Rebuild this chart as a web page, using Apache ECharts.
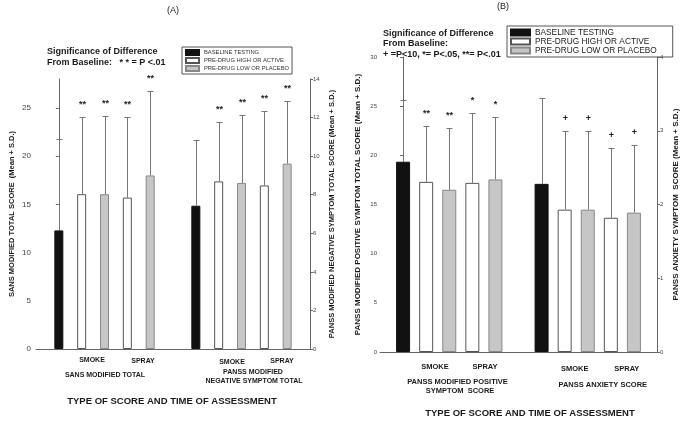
<!DOCTYPE html>
<html>
<head>
<meta charset="utf-8">
<script src="https://cdn.jsdelivr.net/npm/echarts@6/dist/echarts.min.js"></script>
<style>html,body{margin:0;padding:0;background:#fff}#c{width:685px;height:421px}</style>
</head>
<body>
<div id="c"></div>
<script>
// ---- data ----
const conditionNames = ['BASELINE TESTING', 'PRE-DRUG HIGH OR ACTIVE', 'PRE-DRUG LOW OR PLACEBO'];
// bar order within a score group: baseline, smoke high, smoke low, spray high, spray low
const barCondition = [0, 1, 2, 1, 2];
const slotsGroup1 = [0, 1, 2, 3, 4];
const slotsGroup2 = [6, 7, 8, 9, 10];

const sansMean  = [12.3, 16.05, 16.05, 15.7, 18.0];
const sansUpper = [21.8, 24.1, 24.2, 24.1, 26.8];
const sansStars = ['', '**', '**', '**', '**'];

const negMean  = [7.43, 8.69, 8.61, 8.48, 9.61];
const negUpper = [10.82, 11.78, 12.12, 12.36, 12.88];
const negStars = ['', '**', '**', '**', '**'];

const posMean  = [19.35, 17.3, 16.5, 17.2, 17.55];
const posUpper = [25.6, 23.0, 22.8, 24.35, 23.85];
const posStars = ['', '**', '**', '*', '*'];

const anxMean  = [2.28, 1.93, 1.93, 1.82, 1.89];
const anxUpper = [3.45, 2.99, 3.0, 2.77, 2.81];
const anxStars = ['', '+', '+', '+', '+'];

const leftATicks = [0, 5, 10, 15, 20, 25];

// ---- styles ----
const FF = '"Liberation Sans", Arial, sans-serif';
const barStyles = [
  {color: '#111', borderColor: '#111', borderWidth: 1},
  {color: '#fff', borderColor: '#555', borderWidth: 1},
  {color: '#c6c6c6', borderColor: '#888', borderWidth: 1}
];

function barSeries(slots, means, xi, yi, width) {
  return [0, 1, 2].map(c => ({
    type: 'bar', name: conditionNames[c], xAxisIndex: xi, yAxisIndex: yi,
    barWidth: width, barGap: '-100%',
    itemStyle: barStyles[c],
    data: slots.map((s, i) => barCondition[i] === c ? [s, means[i]] : null).filter(d => d),
    silent: true, animation: false
  }));
}

function errSeries(slots, means, uppers, stars, xi, yi, capHalf) {
  return {
    type: 'custom', xAxisIndex: xi, yAxisIndex: yi, silent: true, animation: false, z: 5,
    data: slots.map((s, i) => [s, means[i], uppers[i]]),
    renderItem: function (params, api) {
      const p0 = api.coord([api.value(0), api.value(1)]);
      const p1 = api.coord([api.value(0), api.value(2)]);
      const x = Math.round(p0[0]) + 0.5;
      const yt = Math.round(p1[1]) + 0.5;
      const ch = [
        {type: 'line', shape: {x1: x, y1: p0[1], x2: x, y2: yt}, style: {stroke: '#777', lineWidth: 1}},
        {type: 'line', shape: {x1: x - capHalf, y1: yt, x2: x + capHalf, y2: yt}, style: {stroke: '#777', lineWidth: 1}}
      ];
      const s = stars[params.dataIndex];
      if (s) ch.push({type: 'text', style: {text: s, x: x, y: yt - 13, align: 'center', verticalAlign: 'middle',
        font: 'bold 9px ' + FF, fill: '#222'}});
      return {type: 'group', children: ch};
    }
  };
}

function txt(text, x, y, size, opts) {
  opts = opts || {};
  return {type: 'text', x: x, y: y, silent: true,
    style: {text: text, x: 0, y: 0, align: opts.align || 'center', verticalAlign: 'middle',
      font: (opts.weight || 'bold') + ' ' + size + 'px ' + FF, fill: opts.fill || '#1a1a1a'}};
}

const axisLine = {show: true, lineStyle: {color: '#666', width: 1}};

const option = {
  backgroundColor: '#fff',
  animation: false,
  grid: [
    {left: 36, right: 375, top: 79, bottom: 72},
    {left: 380, right: 28, top: 57, bottom: 69}
  ],
  xAxis: [0, 1].map(g => ({
    type: 'value', gridIndex: g, min: -1, max: 11,
    axisLine: axisLine, axisTick: {show: false}, axisLabel: {show: false}, splitLine: {show: false}
  })),
  yAxis: [
    {type: 'value', gridIndex: 0, position: 'left', min: 0, max: 28, interval: 5,
      axisLine: axisLine, splitLine: {show: false},
      axisTick: {show: true, length: 3, lineStyle: {color: '#666'}, customValues: leftATicks},
      axisLabel: {fontSize: 8, color: '#444', margin: 5, fontFamily: FF, customValues: leftATicks},
      name: 'SANS MODIFIED TOTAL SCORE  (Mean + S.D.)', nameLocation: 'middle', nameRotate: 90, nameGap: 20,
      nameTextStyle: {fontSize: 7.5, fontWeight: 'bold', color: '#1a1a1a', fontFamily: FF}},
    {type: 'value', gridIndex: 0, position: 'right', min: 0, max: 14, interval: 2,
      axisLine: axisLine, splitLine: {show: false},
      axisTick: {show: true, length: 3, lineStyle: {color: '#666'}},
      axisLabel: {fontSize: 6, color: '#444', margin: 3, fontFamily: FF},
      name: 'PANSS MODIFIED NEGATIVE SYMPTOM TOTAL SCORE (Mean + S.D.)', nameLocation: 'middle', nameRotate: 90, nameGap: 18,
      nameTextStyle: {fontSize: 7.5, fontWeight: 'bold', color: '#1a1a1a', fontFamily: FF}},
    {type: 'value', gridIndex: 1, position: 'left', min: 0, max: 30, interval: 5,
      axisLine: axisLine, splitLine: {show: false},
      axisTick: {show: true, length: 3, lineStyle: {color: '#666'}},
      axisLabel: {fontSize: 6, color: '#444', margin: 3, fontFamily: FF},
      name: 'PANSS MODIFIED POSITIVE SYMPTOM TOTAL SCORE (Mean + S.D.)', nameLocation: 'middle', nameRotate: 90, nameGap: 18,
      nameTextStyle: {fontSize: 8, fontWeight: 'bold', color: '#1a1a1a', fontFamily: FF}},
    {type: 'value', gridIndex: 1, position: 'right', min: 0, max: 4, interval: 1,
      axisLine: axisLine, splitLine: {show: false},
      axisTick: {show: true, length: 3, lineStyle: {color: '#666'}},
      axisLabel: {fontSize: 6, color: '#444', margin: 3, fontFamily: FF},
      name: 'PANSS ANXIETY SYMPTOM  SCORE (Mean + S.D.)', nameLocation: 'middle', nameRotate: 90, nameGap: 15,
      nameTextStyle: {fontSize: 8, fontWeight: 'bold', color: '#1a1a1a', fontFamily: FF}}
  ],
  legend: [
    {left: 182, top: 47, orient: 'vertical', data: conditionNames, selectedMode: false, icon: 'rect',
      itemWidth: 13, itemHeight: 5, itemGap: 1, padding: [2, 3, 2, 3],
      borderColor: '#555', borderWidth: 1,
      textStyle: {fontSize: 5.8, color: '#333', fontFamily: FF, lineHeight: 7}},
    {left: 507, top: 26, orient: 'vertical', data: conditionNames, selectedMode: false, icon: 'rect',
      itemWidth: 19, itemHeight: 6, itemGap: 0, padding: [2, 16, 2, 3],
      borderColor: '#555', borderWidth: 1,
      textStyle: {fontSize: 8.3, color: '#222', fontFamily: FF, lineHeight: 9}}
  ],
  series: [].concat(
    barSeries(slotsGroup1, sansMean, 0, 0, 9),
    barSeries(slotsGroup2, negMean, 0, 1, 9),
    barSeries(slotsGroup1, posMean, 1, 2, 14),
    barSeries(slotsGroup2, anxMean, 1, 3, 14),
    [errSeries(slotsGroup1, sansMean, sansUpper, sansStars, 0, 0, 3),
     errSeries(slotsGroup2, negMean, negUpper, negStars, 0, 1, 3),
     errSeries(slotsGroup1, posMean, posUpper, posStars, 1, 2, 3),
     errSeries(slotsGroup2, anxMean, anxUpper, anxStars, 1, 3, 3)]
  ),
  graphic: [
    txt('(A)', 173, 11, 9, {weight: 'normal'}),
    txt('(B)', 503, 7, 9, {weight: 'normal'}),
    txt('Significance of Difference', 47, 52, 9, {align: 'left'}),
    txt('From Baseline:   * * = P <.01', 47, 62.5, 9, {align: 'left'}),
    txt('Significance of Difference', 383, 33.5, 9, {align: 'left'}),
    txt('From Baseline:', 383, 44, 9, {align: 'left'}),
    txt('+ =P<10, *= P<.05, **= P<.01', 383, 54.5, 9, {align: 'left'}),
    txt('SMOKE', 92, 360, 7),
    txt('SPRAY', 143, 361, 7),
    txt('SANS MODIFIED TOTAL', 105, 375.5, 7),
    txt('SMOKE', 232, 362, 7),
    txt('SPRAY', 282, 361, 7),
    txt('PANSS MODIFIED', 253, 371.7, 7),
    txt('NEGATIVE SYMPTOM TOTAL', 254, 380.7, 7),
    txt('TYPE OF SCORE AND TIME OF ASSESSMENT', 172, 401.7, 9.5),
    txt('SMOKE', 435, 366.7, 7.5),
    txt('SPRAY', 485, 366.7, 7.5),
    txt('PANSS MODIFIED POSITIVE', 457.5, 382.3, 7.5),
    txt('SYMPTOM  SCORE', 460, 390.7, 7.5),
    txt('SMOKE', 574.7, 369.3, 7.5),
    txt('SPRAY', 626.8, 369.3, 7.5),
    txt('PANSS ANXIETY SCORE', 602.8, 385, 7.5),
    txt('TYPE OF SCORE AND TIME OF ASSESSMENT', 530, 413.3, 9.5)
  ]
};

const chart = echarts.init(document.getElementById('c'), null, {renderer: 'canvas'});
chart.setOption(option);
</script>
</body>
</html>
